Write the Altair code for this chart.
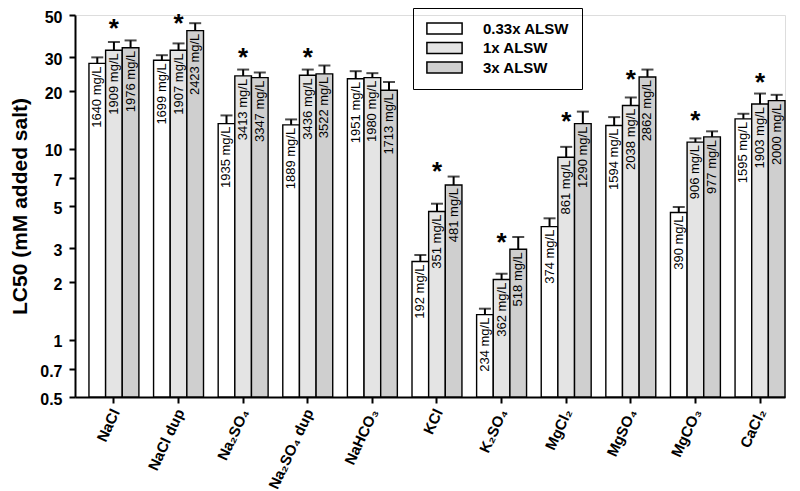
import altair as alt
import pandas as pd

FONT = "Liberation Sans"

salts = ["NaCl", "NaCl dup", "Na₂SO₄", "Na₂SO₄ dup", "NaHCO₃", "KCl",
         "K₂SO₄", "MgCl₂", "MgSO₄", "MgCO₃", "CaCl₂"]
series = ["0.33x ALSW", "1x ALSW", "3x ALSW"]

# LC50 (mM added salt) per salt for each ALSW dilution
lc50_033 = [27.9, 29.0, 13.5, 13.3, 23.2, 2.56, 1.35, 3.90, 13.2, 4.62, 14.3]
lc50_1 = [32.7, 32.7, 24.0, 24.2, 23.5, 4.68, 2.06, 9.0, 16.8, 10.8, 17.1]
lc50_3 = [33.7, 41.4, 23.5, 24.6, 20.2, 6.44, 2.97, 13.5, 23.7, 11.5, 17.8]

# upper end of error bars
upper_033 = [30.0, 30.8, 14.9, 14.2, 25.4, 2.77, 1.45, 4.31, 14.6, 4.94, 15.2]
upper_1 = [36.1, 35.5, 25.9, 25.9, 24.8, 5.14, 2.21, 10.2, 18.5, 11.3, 19.4]
upper_3 = [36.8, 45.3, 25.0, 27.2, 22.3, 7.13, 3.44, 15.6, 25.9, 12.3, 19.1]

# LC50 in mg/L (bar labels)
mgl_033 = [1640, 1699, 1935, 1889, 1951, 192, 234, 374, 1594, 390, 1595]
mgl_1 = [1909, 1907, 3413, 3436, 1980, 351, 362, 861, 2038, 906, 1903]
mgl_3 = [1976, 2423, 3347, 3522, 1713, 481, 518, 1290, 2862, 977, 2000]

# significance asterisk level (None = no asterisk)
star_level = [46.3, 49.6, 32.7, 32.7, None, 8.25, 3.51, 15.1, 25.1, 15.3, 24.2]

rows = []
for vals, ups, mgs, s in [(lc50_033, upper_033, mgl_033, series[0]),
                          (lc50_1, upper_1, mgl_1, series[1]),
                          (lc50_3, upper_3, mgl_3, series[2])]:
    for salt, v, u, m in zip(salts, vals, ups, mgs):
        rows.append({"salt": salt, "series": s, "value": v, "upper": u,
                     "label": f"{m} mg/L"})
df = pd.DataFrame(rows)

stars = pd.DataFrame([{"salt": s, "series": series[1], "star": lv}
                      for s, lv in zip(salts, star_level) if lv is not None])
salt_df = pd.DataFrame({"salt": salts})

x_axis = alt.Axis(title=None, labels=False,
                  tickSize=6, tickWidth=2, tickColor="black",
                  domainColor="black", domainWidth=2)
x_enc = alt.X("salt:N", sort=salts,
              scale=alt.Scale(paddingInner=0.227, paddingOuter=0.108, align=1),
              axis=x_axis)
xo_enc = alt.XOffset("series:N", sort=series,
                     scale=alt.Scale(domain=series, paddingInner=0,
                                     paddingOuter=0))
y_scale = alt.Scale(type="log", domain=[0.5, 50], nice=False)
y_axis = alt.Axis(title="LC50 (mM added salt)", titleFontSize=21,
                  titleFontWeight="bold", titleFont=FONT, titleColor="black",
                  titlePadding=9,
                  values=[0.5, 0.7, 1, 2, 3, 5, 7, 10, 20, 30, 50], format="~g",
                  labelFontSize=16, labelFontWeight="bold", labelFont=FONT,
                  labelColor="black", labelPadding=7, labelOffset=2,
                  grid=False,
                  tickSize=6, tickWidth=2, tickColor="black",
                  domainColor="black", domainWidth=2)

base = alt.Chart(df)

bars = base.mark_bar(stroke="black", strokeWidth=1.4).encode(
    x=x_enc, xOffset=xo_enc,
    y=alt.Y("value:Q", scale=y_scale, axis=y_axis),
    y2=alt.datum(0.5),
    color=alt.Color("series:N", sort=series,
                    scale=alt.Scale(domain=series,
                                    range=["#ffffff", "#e4e4e4", "#cfcfcf"]),
                    legend=alt.Legend(title=None, orient="none",
                                      legendX=338, legendY=-7,
                                      symbolType="M-3.2,-1L3.2,-1L3.2,1L-3.2,1Z",
                                      symbolSize=121,
                                      symbolStrokeColor="black",
                                      symbolStrokeWidth=1.5,
                                      symbolOffset=11, labelOffset=31,
                                      labelFontSize=15, labelFontWeight="bold",
                                      labelFont=FONT, labelColor="black",
                                      strokeColor="black", padding=13,
                                      rowPadding=2.5)),
)

err = base.mark_rule(color="black", strokeWidth=2).encode(
    x=x_enc, xOffset=xo_enc,
    y=alt.Y("value:Q", scale=y_scale), y2="upper:Q")

caps = base.mark_tick(color="black", thickness=2, size=12,
                      orient="horizontal").encode(
    x=x_enc, xOffset=xo_enc, y=alt.Y("upper:Q", scale=y_scale))

labels = base.mark_text(angle=270, align="right", baseline="middle", dx=-3,
                        fontSize=13, font=FONT, color="black").encode(
    x=x_enc, xOffset=xo_enc, y=alt.Y("value:Q", scale=y_scale),
    text="label:N")

star_marks = alt.Chart(stars).mark_text(text="*", fontSize=26,
                                        fontWeight="bold", font=FONT,
                                        baseline="alphabetic", dy=16,
                                        color="black").encode(
    x=x_enc, xOffset=xo_enc, y=alt.Y("star:Q", scale=y_scale))

# category labels, rotated, ending just under each tick
cat_labels = alt.Chart(salt_df).mark_text(
    angle=295, align="right", baseline="middle", dx=-11, dy=7,
    fontSize=15, fontWeight="bold", font=FONT, color="black").encode(
    x=x_enc, y=alt.YDatum(0.5, scale=y_scale), text="salt:N")

chart = alt.layer(bars, err, caps, labels, star_marks, cat_labels).properties(
    width=710, height=382,
    autosize=alt.AutoSizeParams(type="none"),
    padding={"left": 67, "top": 7, "right": 2, "bottom": 94},
).configure_view(stroke=None).configure(font=FONT)

chart.save("out.html", embed_options={"renderer": "svg", "actions": False})
